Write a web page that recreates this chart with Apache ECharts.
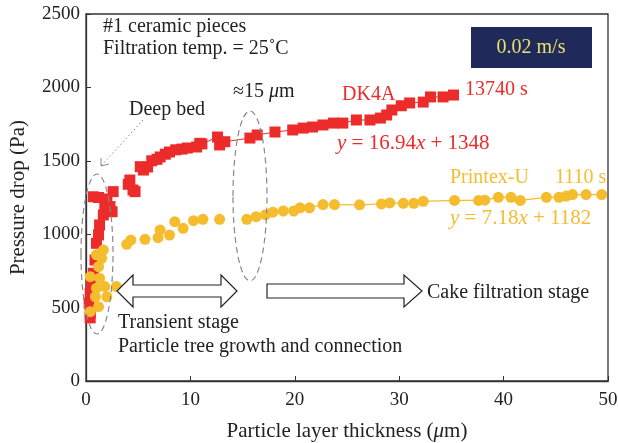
<!DOCTYPE html>
<html><head><meta charset="utf-8">
<script src="https://cdn.jsdelivr.net/npm/echarts@6/dist/echarts.min.js"></script>
<style>html,body{margin:0;padding:0;background:#fff}#c{width:618px;height:443px}</style>
</head><body><div id="c"></div>
<script>
var xTicks = [0, 10, 20, 30, 40, 50];
var yTicks = [0, 500, 1000, 1500, 2000, 2500];

var dk4aTransient = [[0.4,430],[0.4,461],[0.3,530],[0.4,597],[0.5,668],[0.7,734],[0.86,824],[1.0,938],[1.2,995],[1.3,1063],[1.66,1131],[1.8,1199],[0.7,1255],[1.2,1250],[2.0,1240],[2.6,1290],[2.3,1188],[2.5,1153],[4.2,1369],[4.05,1340],[4.5,1301],[4.7,1290],[5.5,1437],[5.9,1458],[5.2,1460],[6.3,1500],[7.1,1526],[6.8,1510],[7.6,1545],[8.0,1560],[8.6,1575],[9.7,1587],[9.2,1580],[10.6,1594],[10.9,1619]];
var dk4aCake = [[11.1,1615],[12.6,1662],[12.8,1608],[13.3,1630],[15.7,1655],[16.4,1676],[18.1,1696],[19.8,1710],[20.8,1723],[21.7,1730],[22.7,1744],[23.7,1757],[24.6,1757],[25.9,1778],[27.2,1778],[28.2,1791],[28.8,1812],[29.3,1846],[30.2,1875],[31.0,1894],[32.3,1900],[33.0,1935],[34.2,1935],[35.2,1948]];
var printexTransient = [[0.4,472],[1.2,506],[0.9,574],[2.0,574],[1.0,632],[1.8,643],[2.9,643],[0.4,711],[1.3,700],[1.2,779],[1.5,836],[1.0,860],[1.66,892],[3.9,931],[4.3,960],[5.65,965],[6.9,976],[7.1,1029],[8.0,994],[8.5,1085],[9.3,1040],[10.3,1092],[11.2,1101],[12.8,1101]];
var printexCake = [[15.4,1101],[16.3,1119],[17.2,1133],[17.9,1150],[18.9,1158],[19.9,1158],[20.5,1180],[21.4,1180],[22.7,1202],[23.8,1202],[26.2,1200],[28.3,1206],[29.1,1213],[30.4,1210],[31.4,1210],[32.3,1224],[35.3,1230],[37.6,1230],[38.2,1232],[39.5,1251],[40.7,1251],[41.6,1230],[44.1,1251],[45.3,1251],[46.0,1260],[46.6,1270],[47.9,1270],[49.4,1270]];

var RED = '#EC2B2B', YEL = '#F5BC2E', FONT = '"Liberation Serif", "DejaVu Serif", serif';
var chart = echarts.init(document.getElementById('c'));
function rich(color, size) {
  return {i: {fontStyle: 'italic', fill: color, color: color, fontFamily: FONT, fontSize: size}, n: {fill: color, color: color, fontFamily: FONT, fontSize: size}};
}
var axisCommon = {
  axisLine: {show: true, onZero: false, lineStyle: {color: '#333', width: 1.3}},
  axisTick: {show: true, inside: true, length: 5, lineStyle: {color: '#333'}},
  splitLine: {show: false},
  axisLabel: {color: '#222', fontFamily: FONT, fontSize: 19, formatter: function (v) { return String(v); }},
  nameTextStyle: {color: '#222', fontFamily: FONT, fontSize: 21, rich: rich('#222', 21)}
};
function txt(x, y, text, color, size, align, r) {
  return {type: 'text', x: x, y: y, z: 100, style: {text: text, fill: color, font: size + 'px ' + FONT, align: align || 'left', verticalAlign: 'middle', rich: r}};
}
chart.setOption({
  animation: false,
  grid: {left: 86, right: 10, top: 14, bottom: 62, show: true, borderColor: '#333', borderWidth: 1.3, containLabel: false, outerBoundsMode: 'none'},
  xAxis: Object.assign({}, axisCommon, {type: 'value', min: xTicks[0], max: xTicks[xTicks.length-1], interval: 10,
    name: '{n|Particle layer thickness (}{i|μ}{n|m)}', nameLocation: 'middle', nameGap: 40,
    axisLabel: Object.assign({}, axisCommon.axisLabel, {margin: 10})}),
  yAxis: Object.assign({}, axisCommon, {type: 'value', min: yTicks[0], max: yTicks[yTicks.length-1], interval: 500,
    name: 'Pressure drop (Pa)', nameLocation: 'middle', nameGap: 57,
    axisLabel: Object.assign({}, axisCommon.axisLabel, {margin: 6})}),
  series: [
    {type: 'scatter', data: dk4aTransient, symbol: 'rect', symbolSize: 11, itemStyle: {color: RED, opacity: 1}, z: 3},
    {type: 'line', data: dk4aCake, symbol: 'rect', symbolSize: 11, showAllSymbol: true, lineStyle: {color: RED, width: 1}, itemStyle: {color: RED}, z: 3},
    {type: 'scatter', data: printexTransient, symbol: 'circle', symbolSize: 11, itemStyle: {color: YEL, opacity: 1}, z: 4},
    {type: 'line', data: printexCake, symbol: 'circle', symbolSize: 11, showAllSymbol: true, lineStyle: {color: YEL, width: 1.2}, itemStyle: {color: YEL}, z: 4}
  ],
  graphic: [
    txt(103, 27, '#1 ceramic pieces', '#222', 20),
    txt(103, 49, 'Filtration temp. = 25˚C', '#222', 20),
    {type: 'rect', z: 100, shape: {x: 471, y: 27, width: 121, height: 41}, style: {fill: '#1F2A5A'}},
    txt(531, 48, '0.02 m/s', '#E6E26A', 20, 'center'),
    txt(233, 92, '{n|≈15 }{i|μ}{n|m}', '#222', 20, 'left', rich('#222', 20)),
    txt(129, 110, 'Deep bed', '#222', 20),
    {type: 'line', z: 100, shape: {x1: 143, y1: 120, x2: 101, y2: 166}, style: {stroke: '#888', lineWidth: 1, lineDash: [1.5, 2.5]}},
    {type: 'polyline', z: 100, shape: {points: [[101, 158], [101, 166], [109, 164]]}, style: {stroke: '#888', lineWidth: 1, fill: null}},
    txt(342, 95, 'DK4A', RED, 20),
    txt(465, 90, '13740 s', RED, 20),
    txt(337, 143, '{i|y}{n| = 16.94}{i|x}{n| + 1348}', RED, 21, 'left', rich(RED, 21)),
    txt(450, 178, 'Printex-U', YEL, 20),
    txt(555, 178, '1110 s', YEL, 20),
    txt(450, 218, '{i|y}{n| = 7.18}{i|x}{n| + 1182}', YEL, 21, 'left', rich(YEL, 21)),
    {type: 'ellipse', z: 90, shape: {cx: 97, cy: 254, rx: 16, ry: 80}, style: {stroke: '#888', lineWidth: 1.2, lineDash: [6, 4], fill: null}},
    {type: 'ellipse', z: 90, shape: {cx: 250, cy: 196, rx: 17, ry: 85}, style: {stroke: '#888', lineWidth: 1.2, lineDash: [6, 4], fill: null}},
    {type: 'polygon', z: 95, shape: {points: [[117,291],[133,275],[133,285],[221,285],[221,275],[237,291],[221,307],[221,297],[133,297],[133,307]]}, style: {fill: '#fff', stroke: '#222', lineWidth: 1.2}},
    {type: 'polygon', z: 95, shape: {points: [[267,284],[404,284],[404,275],[422,291],[404,307],[404,298],[267,298]]}, style: {fill: '#fff', stroke: '#222', lineWidth: 1.2}},
    txt(427, 293, 'Cake filtration stage', '#222', 20),
    txt(118, 323, 'Transient stage', '#222', 20),
    txt(118, 347, 'Particle tree growth and connection', '#222', 20)
  ]
});
</script></body></html>
